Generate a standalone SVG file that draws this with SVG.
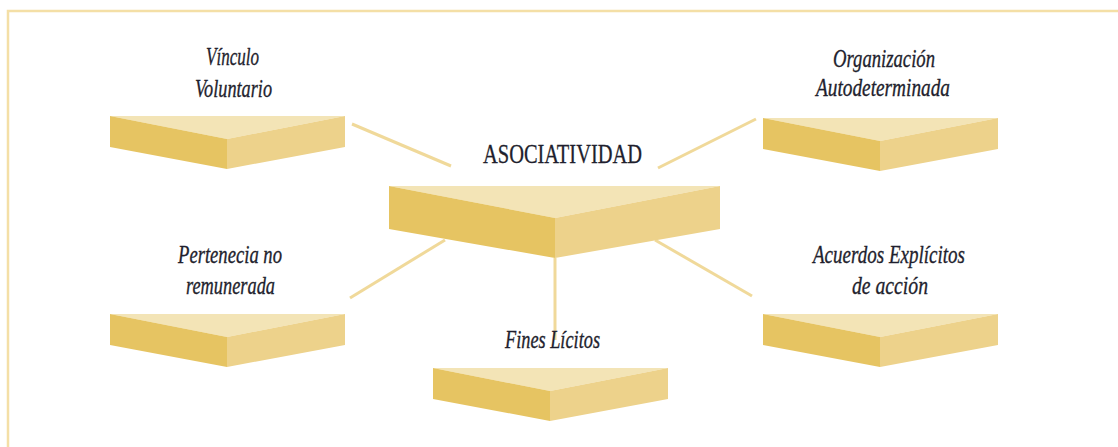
<svg xmlns="http://www.w3.org/2000/svg" width="1118" height="447" viewBox="0 0 1118 447">
<style>
.top{fill:#F3E4B6}
.lf{fill:#E6C462}
.rf{fill:#EDD28B}
.lbl{font-family:"Liberation Serif",serif;font-style:italic;font-size:26px;fill:#1f1f2e;stroke:#1f1f2e;stroke-width:0.35}
.ttl{font-family:"Liberation Serif",serif;font-size:28px;fill:#1f1f2e;stroke:#1f1f2e;stroke-width:0.3}
.con line{stroke:#F0D99A;stroke-width:3}
.frame{stroke:#F4DFA6;stroke-width:2.5;fill:none}
</style>
<defs>
<g id="box">
<polygon class="top" points="0,0 235,0 117,23"/>
<polygon class="lf" points="0,0 117,23 117,53 0,31"/>
<polygon class="rf" points="117,23 235,0 235,31 117,53"/>
</g>
</defs>
<rect width="1118" height="447" fill="#fff"/>
<polyline class="frame" points="8,447 8,11 1118,11"/>
<g class="con" id="connectors">
<line x1="352" y1="124" x2="451" y2="166"/>
<line x1="658" y1="168" x2="756" y2="119"/>
<line x1="350" y1="298" x2="445" y2="240"/>
<line x1="655" y1="240" x2="752" y2="296"/>
<line x1="555" y1="258" x2="555" y2="340"/>
</g>
<g id="n-center">
<polygon class="top" points="389,186 720,186 555,218"/>
<polygon class="lf" points="389,186 555,218 555,258 389,229"/>
<polygon class="rf" points="555,218 720,186 720,229 555,258"/>
<text class="ttl" x="483" y="163" textLength="159" lengthAdjust="spacingAndGlyphs">ASOCIATIVIDAD</text>
</g>
<g id="n-vinculo">
<use href="#box" x="110" y="116"/>
<text class="lbl" x="206" y="65" textLength="53" lengthAdjust="spacingAndGlyphs">Vínculo</text>
<text class="lbl" x="195" y="97" textLength="77" lengthAdjust="spacingAndGlyphs">Voluntario</text>
</g>
<g id="n-organizacion">
<use href="#box" x="763" y="118"/>
<text class="lbl" x="833" y="67" textLength="102" lengthAdjust="spacingAndGlyphs">Organización</text>
<text class="lbl" x="816" y="96" textLength="134" lengthAdjust="spacingAndGlyphs">Autodeterminada</text>
</g>
<g id="n-pertenencia">
<use href="#box" x="110" y="314"/>
<text class="lbl" x="178" y="263" textLength="104" lengthAdjust="spacingAndGlyphs">Pertenecia no</text>
<text class="lbl" x="186" y="294" textLength="89" lengthAdjust="spacingAndGlyphs">remunerada</text>
</g>
<g id="n-acuerdos">
<use href="#box" x="763" y="314"/>
<text class="lbl" x="813" y="263" textLength="152" lengthAdjust="spacingAndGlyphs">Acuerdos Explícitos</text>
<text class="lbl" x="852" y="294" textLength="76" lengthAdjust="spacingAndGlyphs">de acción</text>
</g>
<g id="n-fines">
<use href="#box" x="433" y="368"/>
<text class="lbl" x="505" y="348" textLength="95" lengthAdjust="spacingAndGlyphs">Fines Lícitos</text>
</g>
</svg>
